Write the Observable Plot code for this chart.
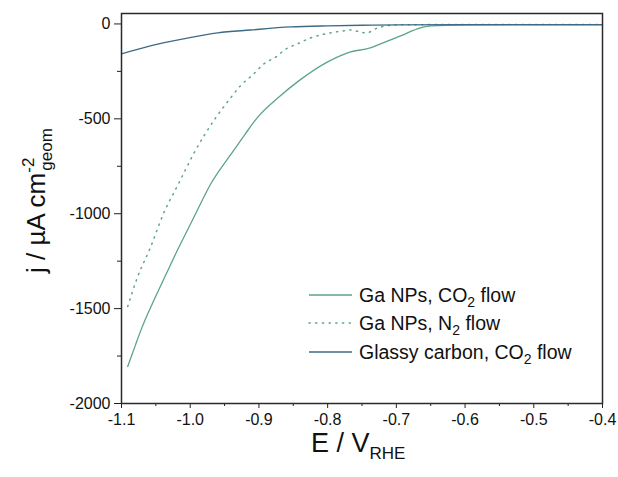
<!DOCTYPE html>
<html>
<head>
<meta charset="utf-8">
<script src="https://cdn.jsdelivr.net/npm/d3@7"></script>
<script src="https://cdn.jsdelivr.net/npm/@observablehq/plot@0.6"></script>
<style>
  html, body { margin: 0; padding: 0; background: #fff; }
  svg { font-family: "Liberation Sans", Arial, sans-serif; }
</style>
</head>
<body>
<div id="chart"></div>
<script>
// Ga NPs, CO2 flow (solid)
const co2E = [-1.091, -1.080, -1.072, -1.051, -1.035, -1.019, -0.995, -0.970, -0.937, -0.920, -0.902, -0.870, -0.842, -0.800, -0.771, -0.738, -0.723, -0.694, -0.665, -0.650, -0.600, -0.500, -0.400];
const co2J = [-1805, -1695, -1616, -1442, -1318, -1195, -1021, -842, -668, -580, -492, -382, -300, -200, -152, -126, -105, -63, -21, -10, -6, -5, -5];

// Ga NPs, N2 flow (dotted)
const n2E = [-1.091, -1.077, -1.058, -1.039, -1.017, -0.995, -0.963, -0.941, -0.927, -0.909, -0.893, -0.873, -0.864, -0.844, -0.825, -0.803, -0.778, -0.767, -0.755, -0.743, -0.733, -0.723, -0.698, -0.600, -0.400];
const n2J = [-1489, -1337, -1179, -1000, -842, -684, -495, -389, -326, -268, -211, -168, -140, -105, -74, -52, -37, -32, -40, -48, -30, -16, -5, -3, -3];

// Glassy carbon, CO2 flow
const gcE = [-1.100, -1.058, -1.010, -0.960, -0.912, -0.854, -0.800, -0.750, -0.700, -0.600, -0.400];
const gcJ = [-158, -116, -79, -47, -32, -16, -10, -7, -5, -4, -4];

const seriesNames = ["Ga NPs, CO2 flow", "Ga NPs, N2 flow", "Glassy carbon, CO2 flow"];
const xMajor = [-1.1, -1.0, -0.9, -0.8, -0.7, -0.6, -0.5, -0.4];
const xMinor = [-1.05, -0.95, -0.85, -0.75, -0.65, -0.55, -0.45];
const yMajor = [0, -500, -1000, -1500, -2000];
const yMinor = [-250, -750, -1250, -1750];

const GREEN = "#5aa584";
const BLUE = "#3d6a86";

const toRows = (E, J) => E.map((e, i) => ({E: e, j: J[i]}));
const co2 = toRows(co2E, co2J);
const n2 = toRows(n2E, n2J);
const gc = toRows(gcE, gcJ);

const svg = Plot.plot({
  width: 618,
  height: 477,
  marginLeft: 121,
  marginRight: 16,
  marginTop: 13,
  marginBottom: 74,
  style: {fontFamily: "Liberation Sans, Arial, sans-serif", fontSize: "16px", color: "#111", background: "#fff"},
  x: {domain: [-1.1, -0.4]},
  y: {domain: [-2000, 55]},
  marks: [
    Plot.axisX(xMajor, {tickSize: 5, tickPadding: 5, tickFormat: d => d.toFixed(1), label: null, fontSize: 16, stroke: "#222"}),
    Plot.axisX(xMinor, {tickSize: 3, tickFormat: () => "", label: null, stroke: "#222"}),
    Plot.axisY(yMajor, {tickSize: 7, tickPadding: 4, tickFormat: d => String(d), label: null, fontSize: 16, stroke: "#222"}),
    Plot.axisY(yMinor, {tickSize: 4, tickFormat: () => "", label: null, stroke: "#222"}),
    Plot.line(co2, {x: "E", y: "j", stroke: GREEN, strokeWidth: 1.3, curve: "monotone-x"}),
    Plot.line(n2, {x: "E", y: "j", stroke: GREEN, strokeWidth: 1.5, strokeDasharray: "1.2,5.5", strokeLinecap: "round", curve: "monotone-x"}),
    Plot.line(gc, {x: "E", y: "j", stroke: BLUE, strokeWidth: 1.3, curve: "monotone-x"}),
    Plot.frame({stroke: "#2a2a2a", strokeWidth: 1.5})
  ]
});

const s = d3.select(svg);

// Y axis title
const yt = s.append("text")
  .attr("transform", "translate(45,273) rotate(-90)")
  .attr("font-size", 26)
  .attr("fill", "#111")
  .attr("text-anchor", "start");
yt.append("tspan").text("j / µA cm");
yt.append("tspan").attr("font-size", 17).attr("dy", -11).text("-2");
yt.append("tspan").attr("font-size", 17).attr("dx", -13).attr("dy", 18).text("geom");

// X axis title
const xt = s.append("text")
  .attr("x", 311).attr("y", 452)
  .attr("font-size", 27)
  .attr("fill", "#111")
  .attr("text-anchor", "start");
xt.append("tspan").text("E / V");
xt.append("tspan").attr("font-size", 17).attr("dy", 7).text("RHE");

// Legend
const legendRows = [
  {name: seriesNames[0], main: "Ga NPs, CO", sub: "2", rest: " flow", color: GREEN, dash: null},
  {name: seriesNames[1], main: "Ga NPs, N", sub: "2", rest: " flow", color: GREEN, dash: "1.2,5.5"},
  {name: seriesNames[2], main: "Glassy carbon, CO", sub: "2", rest: " flow", color: BLUE, dash: null}
];
const ly = [295, 323, 352];
legendRows.forEach((r, i) => {
  const g = s.append("g");
  g.append("line")
    .attr("x1", 309).attr("x2", 352).attr("y1", ly[i]).attr("y2", ly[i])
    .attr("stroke", r.color).attr("stroke-width", r.dash ? 1.5 : 1.3)
    .attr("stroke-linecap", r.dash ? "round" : "butt")
    .attr("stroke-dasharray", r.dash);
  const t = g.append("text")
    .attr("x", 359).attr("y", ly[i] + 7)
    .attr("text-anchor", "start")
    .attr("font-size", 19.5).attr("fill", "#111");
  t.append("tspan").text(r.main);
  t.append("tspan").attr("font-size", 14).attr("dy", 5).text(r.sub);
  t.append("tspan").attr("dy", -5).text(r.rest);
});

document.getElementById("chart").appendChild(svg);
</script>
</body>
</html>
